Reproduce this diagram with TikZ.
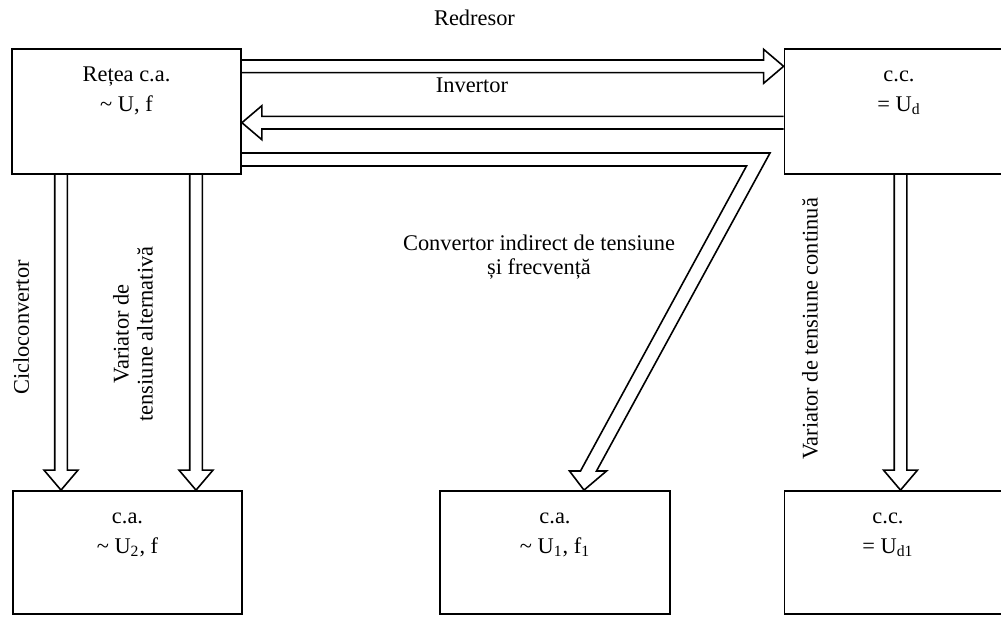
\documentclass[tikz,border=0pt]{standalone}
\usepackage{fontspec}
\setmainfont{Liberation Serif}
\usetikzlibrary{calc,positioning}

\tikzset{
  panel/.style={draw, line width=0.9pt, inner sep=0pt, minimum width=114.5pt, minimum height=62.5pt},
  paneltext/.style={inner sep=0pt, align=center, font=\fontsize{11.2}{15}\selectfont},
  lbl/.style={inner sep=0pt, anchor=north, align=center, font=\fontsize{11.2}{12}\selectfont},
  blockline/.style={line width=0.8pt, line join=miter},
}

% sizes of the hollow arrows
\newcommand{\shaftw}{3.15pt}
\newcommand{\headw}{8.5pt}
\newcommand{\headlen}{10pt}

% hollow arrow from #1 to #2
\newcommand{\blockarrow}[2]{%
  \coordinate (ba-s) at (#1);
  \coordinate (ba-t) at (#2);
  \coordinate (ba-h) at ($(ba-t)!\headlen!(ba-s)$);
  \draw[blockline] ($(ba-s)!\shaftw!90:(ba-t)$) -- ($(ba-h)!\shaftw!90:(ba-t)$)
    -- ($(ba-h)!\headw!90:(ba-t)$) -- (ba-t) -- ($(ba-h)!\headw!-90:(ba-t)$)
    -- ($(ba-h)!\shaftw!-90:(ba-t)$) -- ($(ba-s)!\shaftw!-90:(ba-t)$);
}

\begin{document}
\begin{tikzpicture}[x=0.5pt, y=-0.5pt]
  \clip (0,0) rectangle (1001,616);

  % Define the blocks
  \node[panel] (retea) at (126.5,111.5) {};
  \node[panel] (cc) at (899,111.5) {};
  \node[panel, minimum height=61.5pt] (ca2) at (127.5,552.5) {};
  \node[panel, minimum height=61.5pt, minimum width=115pt] (ca1) at (555,552.5) {};
  \node[panel, minimum height=61.5pt] (cc1) at (899,552.5) {};

  % Texts of the blocks
  \node[paneltext, below=6pt of retea.north] (retea-txt) {\strut Rețea c.a.\\\textasciitilde{} U, f};
  \node[paneltext, below=6pt of cc.north] (cc-txt) {\strut c.c.\\= U\textsubscript{d}};
  \node[paneltext, below=6pt of ca2.north] (ca2-txt) {\strut c.a.\\\textasciitilde{} U\textsubscript{2}, f};
  \node[paneltext, below=6pt of ca1.north] (ca1-txt) {\strut c.a.\\\textasciitilde{} U\textsubscript{1}, f\textsubscript{1}};
  \node[paneltext, below=6pt of cc1.north, xshift=-5.5pt] (cc1-txt) {\strut c.c.\\= U\textsubscript{d1}};

  % Labels of the converters
  \node[lbl] (redresor) at (474.5,9.5) {Redresor};
  \node[lbl] (invertor) at (472,77) {Invertor};
  \node[lbl] (indirect) at (539,234.5) {Convertor indirect de tensiune\\și frecvență};
  \node[lbl, rotate=90] (ciclo) at (13,327.5) {Cicloconvertor};
  \node[lbl, rotate=90] (var-alt) at (112.7,334) {Variator de\\tensiune alternativă};
  \node[lbl, rotate=90] (var-cc) at (801.7,329) {Variator de tensiune continuă};

  % Redresor and invertor
  \blockarrow{$(retea.east)+(0,-45.2)$}{$(cc.west)+(0,-45.2)$}
  \blockarrow{$(cc.west)+(0,11.2)$}{$(retea.east)+(0,11.2)$}

  % Down to the output blocks
  \blockarrow{$(retea.south)+(-65.5,0)$}{$(ca2.north)+(-66.5,0)$}
  \blockarrow{$(retea.south)+(69.5,0)$}{$(ca2.north)+(68.5,0)$}
  \blockarrow{$(cc.south)+(1.5,0)$}{$(cc1.north)+(1.5,0)$}

  % Indirect converter, bent arrow
  \coordinate (kink-out) at (770,153);
  \coordinate (kink-in) at (746.5,166);
  \draw[blockline] ($(retea.east)+(0,41.5)$) -- (kink-out) -- (596.5,471) -- (606.5,471)
    -- ($(ca1.north)+(29,0)$) -- (569.5,471) -- (580.5,471) -- (kink-in)
    -- ($(retea.east)+(0,54.5)$);

\end{tikzpicture}
\end{document}
